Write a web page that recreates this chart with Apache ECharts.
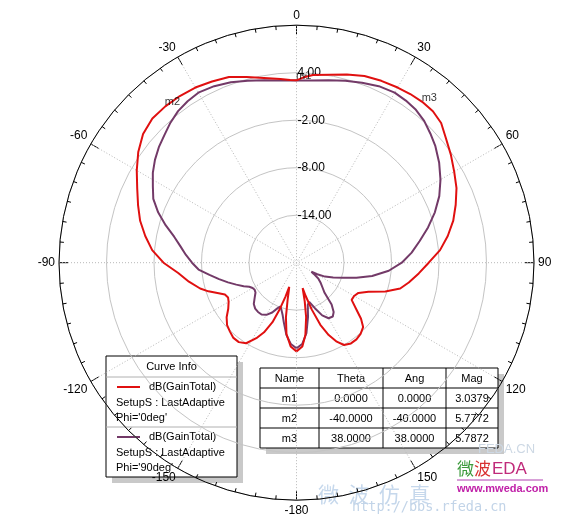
<!DOCTYPE html>
<html>
<head>
<meta charset="utf-8">
<script src="https://cdn.jsdelivr.net/npm/echarts@6/dist/echarts.min.js"></script>
<style>
html, body { margin: 0; padding: 0; background: #ffffff; }
#chart { width: 565px; height: 518px; }
</style>
</head>
<body>
<div id="chart"></div>
<script>
// Far-field gain cuts, dB(GainTotal) versus Theta (deg)
const thetaPhi0 = [-180,-176,-172,-169,-166.5,-164.5,-163.3,-162,-160,-158,-155,-152,-148,-144,-140,-136,-132,-128,-124,-120,-117,-114,-111,-108,-105,-100,-95,-90,-85,-80,-75,-70,-65,-60,-55,-50,-45,-40,-35,-30,-25,-20,-15,-10,-5,-2,0,2,5,10,15,20,25,30,34,38,42,46,50,55,60,65,70,75,80,85,90,95,100,104,108,112,116,120,124,128,131,134,138,142,146,150,153,156,159,162,164.5,166.4,168,170,173,176,180];
const gainPhi0 = [-8.8,-9.4,-10.9,-13.0,-15.2,-16.4,-16.8,-15.5,-13.6,-11.9,-10.3,-9.2,-8.0,-7.6,-7.6,-7.9,-8.2,-8.8,-9.6,-10.1,-10.3,-10.1,-9.3,-8.3,-7.4,-6.2,-5.0,-3.2,-1.7,-0.6,0.45,1.3,2.2,3.3,4.4,5.3,5.75,5.7772,5.7,5.55,5.25,4.95,4.3,3.7,3.3,3.1,3.0379,3.4,3.8,4.1,4.6,5.1,5.35,5.55,5.7,5.7872,5.75,5.4,4.6,3.8,3.0,2.3,1.4,0.5,-0.6,-1.8,-3.3,-4.5,-5.6,-6.5,-8.2,-10.2,-11.3,-11.6,-11.6,-10.4,-9.2,-8.3,-7.9,-7.7,-7.7,-8.0,-8.8,-10.0,-11.6,-13.8,-15.6,-16.7,-15.0,-13.0,-10.8,-9.4,-8.8];

const thetaPhi90 = [-180,-176,-172,-168,-165,-162,-159.5,-157,-154,-150,-146,-142,-138,-134,-130,-126,-123,-120,-117,-114,-110,-106,-102,-98,-94,-90,-86,-82,-78,-74,-70,-66,-62,-58,-54,-50,-46,-42,-38,-34,-30,-25,-20,-15,-10,-5,0,5,10,15,20,25,30,34,38,42,46,50,55,60,65,70,75,80,85,90,95,100,104,108,112,116,119,121,123,126,130,134,137,140,143,146,150,154,158,162,165,168,172,176,180];
const gainPhi90 = [-9.2,-9.7,-10.8,-12.3,-13.2,-13.8,-14.1,-13.7,-13.0,-12.4,-12.1,-12.1,-12.2,-12.5,-13.1,-13.6,-13.7,-13.6,-13.3,-12.7,-11.9,-11.0,-10.0,-8.9,-7.6,-6.8,-6.0,-5.2,-4.2,-2.8,-1.4,-0.2,0.55,1.4,2.1,2.7,3.2,3.8,4.3,4.6,4.8,4.6,4.25,3.8,3.4,3.1,3.0,3.1,3.4,3.8,4.2,4.6,4.8,4.7,4.5,4.1,3.5,2.9,2.0,1.0,-0.1,-1.4,-2.8,-4.2,-5.4,-6.7,-8.3,-10.3,-12.2,-13.8,-15.0,-16.0,-17.0,-17.8,-17.4,-16.6,-16.0,-15.4,-14.8,-13.1,-12.2,-11.8,-11.9,-12.6,-13.8,-14.8,-14.5,-13.0,-11.0,-9.7,-9.2];

// Markers placed on the Phi=0deg cut
const markerNames = ['m1', 'm2', 'm3'];
const markerTheta = [0, -40, 38];
const markerMag = [3.0379, 5.7772, 5.7872];

// Radial grid labels (dB)
const radialLabels = [4, -2, -8, -14];

const curveNames = ['dB(GainTotal)', 'dB(GainTotal)'];
const curveSetup = ['SetupS : LastAdaptive', 'SetupS : LastAdaptive'];
const curvePhi = ["Phi='0deg'", "Phi='90deg'"];
const curveColors = ['#e01010', '#733a68'];

const FONT = '"Liberation Sans", Arial, sans-serif';

// Theta runs -180..180; the angle axis runs 0..360 starting at the top, clockwise
const toAxisAngle = t => (t < 0 ? t + 360 : t);
const toPoints = (thetas, gains) => thetas.map((t, i) => [gains[i], toAxisAngle(t)]);

const cx = 296.5, cy = 262.7, R = 237.5;

// Curve info box
function curveInfoBox(x0, y0) {
  const w = 131, h = 121;
  const kids = [
    { type: 'rect', shape: { x: 6, y: 6, width: w, height: h }, style: { fill: '#c9c9c9' } },
    { type: 'rect', shape: { x: 0, y: 0, width: w, height: h }, style: { fill: '#ffffff', stroke: '#000', lineWidth: 1 } },
    { type: 'text', x: w / 2, y: 11, style: { text: 'Curve Info', font: '11px ' + FONT, fill: '#000', align: 'center', verticalAlign: 'middle' } },
    { type: 'line', shape: { x1: 0, y1: 21, x2: w, y2: 21 }, style: { stroke: '#b0b0b0', lineWidth: 1 } },
    { type: 'line', shape: { x1: 0, y1: 71, x2: w, y2: 71 }, style: { stroke: '#b0b0b0', lineWidth: 1 } }
  ];
  for (let i = 0; i < 2; i++) {
    const oy = 31 + i * 50;
    kids.push({ type: 'line', shape: { x1: 11, y1: oy, x2: 34, y2: oy }, style: { stroke: curveColors[i], lineWidth: 2 } });
    kids.push({ type: 'text', x: 43, y: oy, style: { text: curveNames[i], font: '11px ' + FONT, fill: '#000', verticalAlign: 'middle' } });
    kids.push({ type: 'text', x: 10, y: oy + 16, style: { text: curveSetup[i], font: '11px ' + FONT, fill: '#000', verticalAlign: 'middle' } });
    kids.push({ type: 'text', x: 10, y: oy + 30.5, style: { text: curvePhi[i], font: '11px ' + FONT, fill: '#000', verticalAlign: 'middle' } });
  }
  return { type: 'group', x: x0, y: y0, children: kids };
}

// Marker table
function markerTable(x0, y0) {
  const cols = [0, 59, 123, 186, 238];
  const rowH = 20;
  const header = ['Name', 'Theta', 'Ang', 'Mag'];
  const rows = markerNames.map((n, i) => [n, markerTheta[i].toFixed(4), markerTheta[i].toFixed(4), markerMag[i].toFixed(4)]);
  const all = [header].concat(rows);
  const w = cols[cols.length - 1], h = rowH * all.length;
  const kids = [
    { type: 'rect', shape: { x: 6, y: 6, width: w, height: h }, style: { fill: '#c9c9c9' } },
    { type: 'rect', shape: { x: 0, y: 0, width: w, height: h }, style: { fill: '#ffffff', stroke: '#000', lineWidth: 1 } }
  ];
  for (let r = 1; r < all.length; r++) {
    kids.push({ type: 'line', shape: { x1: 0, y1: r * rowH, x2: w, y2: r * rowH }, style: { stroke: '#000', lineWidth: 1 } });
  }
  for (let c = 1; c < cols.length - 1; c++) {
    kids.push({ type: 'line', shape: { x1: cols[c], y1: 0, x2: cols[c], y2: h }, style: { stroke: '#000', lineWidth: 1 } });
  }
  all.forEach((row, r) => {
    row.forEach((txt, c) => {
      kids.push({ type: 'text', x: (cols[c] + cols[c + 1]) / 2, y: r * rowH + rowH / 2 + 0.5,
        style: { text: txt, font: '11px ' + FONT, fill: '#000', align: 'center', verticalAlign: 'middle' } });
    });
  });
  return { type: 'group', x: x0, y: y0, children: kids };
}

// Site watermark text in the lower right
const watermark = [
  { type: 'text', x: 478, y: 449, style: { text: 'FEDA.CN', font: '13px ' + FONT, fill: '#cdd8e4', verticalAlign: 'middle' } },
  { type: 'text', x: 318, y: 494, style: { text: '微  波  仿  真', font: '21px "Noto Sans CJK SC"', fill: '#c6d8ec', verticalAlign: 'middle' } },
  { type: 'text', x: 352, y: 507, style: { text: 'http://bbs.rfeda.cn', font: '13.5px "DejaVu Sans Mono", monospace', fill: '#c2d4e8', verticalAlign: 'middle' } },
  { type: 'text', x: 457, y: 469, style: { text: '微', font: '17px "Noto Sans CJK SC"', fill: '#3c9a3c', verticalAlign: 'middle' } },
  { type: 'text', x: 474, y: 469, style: { text: '波', font: '17px "Noto Sans CJK SC"', fill: '#d83030', verticalAlign: 'middle' } },
  { type: 'text', x: 492, y: 469, style: { text: 'EDA', font: '17px ' + FONT, fill: '#c02a7a', verticalAlign: 'middle' } },
  { type: 'line', shape: { x1: 457, y1: 480, x2: 543, y2: 480 }, style: { stroke: '#b040b0', lineWidth: 1 } },
  { type: 'text', x: 457, y: 489, style: { text: 'www.mweda.com', font: 'bold 11px ' + FONT, fill: '#c020a8', verticalAlign: 'middle' } }
];

const chart = echarts.init(document.getElementById('chart'), null, { renderer: 'canvas' });
chart.setOption({
  animation: false,
  backgroundColor: '#ffffff',
  polar: { center: [cx, cy], radius: R },
  angleAxis: {
    type: 'value', min: 0, max: 360, interval: 30,
    startAngle: 90, clockwise: true,
    axisLine: { show: true, lineStyle: { color: '#000', width: 1 } },
    axisTick: { show: true, inside: true, length: 9, lineStyle: { color: '#000', width: 1 } },
    minorTick: { show: true, splitNumber: 6, length: 4, lineStyle: { color: '#000', width: 1 } },
    axisLabel: {
      margin: 4, color: '#000', fontSize: 12, fontFamily: FONT,
      formatter: v => String(v > 180 ? v - 360 : (v === 180 ? -180 : v))
    },
    splitLine: { show: true, lineStyle: { color: '#b8b8b8', type: [1, 2], width: 1 } }
  },
  radiusAxis: {
    type: 'value', min: -20, max: 10, interval: 6,
    axisLine: { show: false },
    axisTick: { show: false },
    axisLabel: {
      color: '#000', fontSize: 12, fontFamily: FONT,
      margin: -1, align: 'left', verticalAlign: 'middle', padding: [0, 0, 4, 0],
      formatter: v => (radialLabels.indexOf(v) >= 0 ? v.toFixed(2) : '')
    },
    splitLine: { show: true, lineStyle: { color: '#c4c4c4', width: 1 } }
  },
  series: [
    {
      type: 'line', coordinateSystem: 'polar', name: "Phi='0deg'",
      data: toPoints(thetaPhi0, gainPhi0), showSymbol: false, smooth: false,
      lineStyle: { color: curveColors[0], width: 2 }, z: 3
    },
    {
      type: 'line', coordinateSystem: 'polar', name: "Phi='90deg'",
      data: toPoints(thetaPhi90, gainPhi90), showSymbol: false, smooth: false,
      lineStyle: { color: curveColors[1], width: 2 }, z: 2
    },
    {
      type: 'scatter', coordinateSystem: 'polar', name: 'markers',
      data: markerNames.map((n, i) => ({ name: n, value: [markerMag[i], toAxisAngle(markerTheta[i])] })),
      symbolSize: 1, itemStyle: { color: 'rgba(0,0,0,0)' },
      label: { show: true, formatter: p => p.name, position: 'right', distance: 0, offset: [-1, -4],
        color: '#000', fontSize: 11, fontFamily: FONT },
      z: 4
    }
  ],
  graphic: [curveInfoBox(106, 356), markerTable(260, 368)].concat(watermark)
});
</script>
</body>
</html>
